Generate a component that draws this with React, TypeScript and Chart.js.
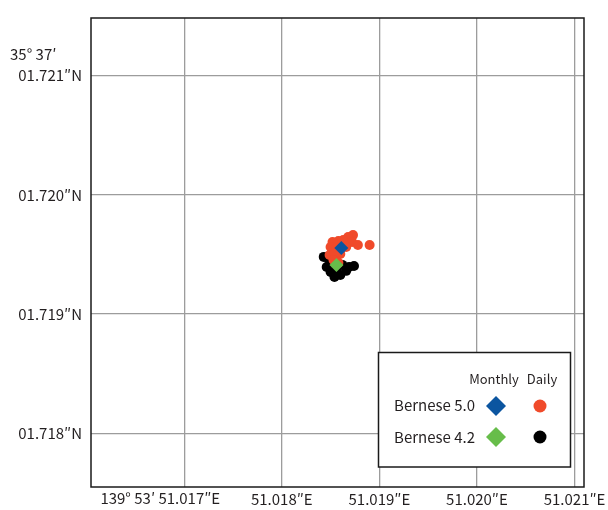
import { useEffect, useRef } from 'react';
import { Chart, registerables } from 'chart.js';

Chart.register(...registerables);

// Axis ticks (arc-seconds of longitude / latitude)
const lonTicks = [51.017, 51.018, 51.019, 51.02, 51.021];
const lonTickLabels = ['139° 53′ 51.017″E', '51.018″E', '51.019″E', '51.020″E', '51.021″E'];
const latTicks = [1.718, 1.719, 1.72, 1.721];
const latTickLabels = ['01.718″N', '01.719″N', '01.720″N', '01.721″N'];
const latDegMin = '35° 37′';
const lonRange = [51.016045, 51.021097];
const latRange = [1.717549, 1.721485];

// Bernese 5.0 daily solutions
const b50DailyLon = [51.01873, 51.01868, 51.01863, 51.01858, 51.01852, 51.01872, 51.01878, 51.0185, 51.01856, 51.01866, 51.01849, 51.01854, 51.0186, 51.0189, 51.01853, 51.01858];
const b50DailyLat = [1.719663, 1.719647, 1.719622, 1.719613, 1.719605, 1.719605, 1.71958, 1.719563, 1.719555, 1.719563, 1.719496, 1.719513, 1.719505, 1.71958, 1.719455, 1.71943];

// Bernese 4.2 daily solutions
const b42DailyLon = [51.01843, 51.01846, 51.0185, 51.01854, 51.0186, 51.01866, 51.01874, 51.0185, 51.01862, 51.01856, 51.01848, 51.01869];
const b42DailyLat = [1.71948, 1.719396, 1.719354, 1.719312, 1.719329, 1.719363, 1.719404, 1.719438, 1.719413, 1.719379, 1.719463, 1.719396];

// Monthly solutions
const b50MonthlyLon = [51.01861];
const b50MonthlyLat = [1.719555];
const b42MonthlyLon = [51.01856];
const b42MonthlyLat = [1.719413];

const RED = '#f04a2a';
const BLACK = '#000000';
const BLUE = '#0b55a0';
const GREEN = '#67bd4a';
const TEXT = '#231f20';
const FONT = '"Noto Sans CJK JP", "Noto Sans", sans-serif';

const pts = (xs: number[], ys: number[]) => xs.map((x, i) => ({ x, y: ys[i] }));

const framePlugin = {
  id: 'frameAndKey',
  afterDraw(chart: any) {
    const { ctx, chartArea } = chart;
    const { left, right, top, bottom } = chartArea;
    ctx.save();
    // plot frame
    ctx.strokeStyle = '#1a1a1a';
    ctx.lineWidth = 1.5;
    ctx.strokeRect(left, top, right - left, bottom - top);

    // degree/minute prefix above the top latitude label
    const yScale = chart.scales.y;
    const yTop = yScale.getPixelForValue(latTicks[latTicks.length - 1]);
    ctx.fillStyle = TEXT;
    ctx.font = `15px ${FONT}`;
    ctx.textAlign = 'left';
    ctx.textBaseline = 'middle';
    ctx.fillText(latDegMin, 10, yTop - 21);

    // first longitude label carries the degree/minute part
    const xScale = chart.scales.x;
    const xFirst = xScale.getPixelForValue(lonTicks[0]);
    ctx.textAlign = 'right';
    ctx.fillText(lonTickLabels[0], xFirst + 36, bottom + 11);

    // key box
    const bx = 378.5, by = 352.5, bw = 192, bh = 114.5;
    ctx.fillStyle = '#ffffff';
    ctx.fillRect(bx, by, bw, bh);
    ctx.strokeStyle = '#1a1a1a';
    ctx.lineWidth = 1.5;
    ctx.strokeRect(bx, by, bw, bh);

    ctx.fillStyle = TEXT;
    ctx.font = `13px ${FONT}`;
    ctx.textAlign = 'center';
    ctx.fillText('Monthly', 494, 379);
    ctx.fillText('Daily', 542, 379);

    ctx.font = `15px ${FONT}`;
    ctx.textAlign = 'right';
    ctx.fillText('Bernese 5.0', 475, 405);
    ctx.fillText('Bernese 4.2', 475, 437);

    const diamond = (x: number, y: number, r: number, c: string) => {
      ctx.fillStyle = c;
      ctx.beginPath();
      ctx.moveTo(x - r, y);
      ctx.lineTo(x, y - r);
      ctx.lineTo(x + r, y);
      ctx.lineTo(x, y + r);
      ctx.closePath();
      ctx.fill();
    };
    const dot = (x: number, y: number, r: number, c: string) => {
      ctx.fillStyle = c;
      ctx.beginPath();
      ctx.arc(x, y, r, 0, Math.PI * 2);
      ctx.fill();
    };
    diamond(496, 406, 10, BLUE);
    dot(540, 406, 6.5, RED);
    diamond(496, 437, 10, GREEN);
    dot(540, 437, 6.5, BLACK);
    ctx.restore();
  },
};

export default function App() {
  const ref = useRef<HTMLCanvasElement | null>(null);

  useEffect(() => {
    if (!ref.current) return;
    // datasets listed first are painted on top
    const chart = new Chart(ref.current, {
      type: 'scatter',
      data: {
        datasets: [
          {
            label: 'Bernese 5.0 Monthly',
            data: pts(b50MonthlyLon, b50MonthlyLat),
            backgroundColor: BLUE,
            borderWidth: 0,
            pointRadius: 7,
            pointStyle: 'rectRot',
          },
          {
            label: 'Bernese 4.2 Monthly',
            data: pts(b42MonthlyLon, b42MonthlyLat),
            backgroundColor: GREEN,
            borderWidth: 0,
            pointRadius: 7,
            pointStyle: 'rectRot',
          },
          {
            label: 'Bernese 5.0 Daily',
            data: pts(b50DailyLon, b50DailyLat),
            backgroundColor: RED,
            borderWidth: 0,
            pointRadius: 5,
            pointStyle: 'circle',
          },
          {
            label: 'Bernese 4.2 Daily',
            data: pts(b42DailyLon, b42DailyLat),
            backgroundColor: BLACK,
            borderWidth: 0,
            pointRadius: 5,
            pointStyle: 'circle',
          },
        ],
      },
      options: {
        animation: false,
        responsive: true,
        maintainAspectRatio: false,
        layout: { padding: { top: 16, right: 24, left: 0, bottom: 0 } },
        plugins: {
          legend: { display: false },
          tooltip: { enabled: false },
        },
        scales: {
          x: {
            type: 'linear',
            min: lonRange[0],
            max: lonRange[1],
            afterBuildTicks: (s: any) => {
              s.ticks = lonTicks.map((v) => ({ value: v }));
            },
            afterFit: (s: any) => {
              s.height = 23;
              s.paddingLeft = 0;
              s.paddingRight = 0;
            },
            ticks: {
              autoSkip: false,
              maxRotation: 0,
              padding: 3,
              color: TEXT,
              font: { family: FONT, size: 15 },
              callback: (_v: any, i: number) => (i === 0 ? '' : lonTickLabels[i]),
            },
            grid: { color: '#9c9c9c', lineWidth: 1.3, drawTicks: false },
            border: { display: false },
          },
          y: {
            type: 'linear',
            min: latRange[0],
            max: latRange[1],
            afterBuildTicks: (s: any) => {
              s.ticks = latTicks.map((v) => ({ value: v }));
            },
            afterFit: (s: any) => {
              s.width = 91;
            },
            ticks: {
              autoSkip: false,
              padding: 9,
              color: TEXT,
              font: { family: FONT, size: 15 },
              callback: (_v: any, i: number) => latTickLabels[i],
            },
            grid: { color: '#9c9c9c', lineWidth: 1.3, drawTicks: false },
            border: { display: false },
          },
        },
      },
      plugins: [framePlugin],
    });
    return () => chart.destroy();
  }, []);

  return (
    <div style={{ position: 'absolute', left: 0, top: 0, width: 608, height: 510, background: '#fff' }}>
      <canvas ref={ref} />
    </div>
  );
}
